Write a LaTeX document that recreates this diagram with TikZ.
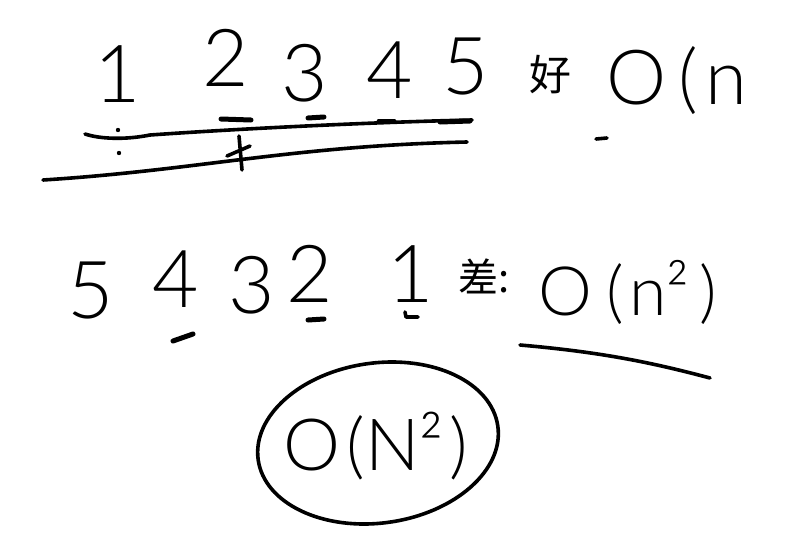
\documentclass[tikz,border=0pt]{standalone}
\usepackage{fontspec}
\setmainfont{Lato}[UprightFont=* Light]
\newfontfamily\cjk{Noto Sans CJK SC}
\begin{document}
\begin{tikzpicture}[x=1pt,y=-1pt,
  pen/.style={line width=3.6pt, line cap=round, line join=round},
  tick/.style={line width=5pt, line cap=round},
  dig/.style={font=\fontsize{80}{80}\selectfont, inner sep=0pt, anchor=base},
  big/.style={font=\fontsize{72}{72}\selectfont, inner sep=0pt, anchor=base},
  han/.style={font=\cjk\fontsize{42}{42}\selectfont, inner sep=0pt}]
\useasboundingbox (0,0) rectangle (803,533);
% top row
\node[dig] (a1) at (118,102) {1};
\node[dig] (a2) at (226,86) {2};
\node[dig] (a3) at (305,101) {3};
\node[dig] (a4) at (390,98) {4};
\node[dig] (a5) at (466,94) {5};
\node[han] (good) at (550,75) {好};
\node[big, anchor=base west, font=\fontsize{76}{76}\selectfont] (on) at (606,104) {O\kern12pt(\kern8pt n};
% top lines
\draw[pen] (85,134) .. controls (100,139) and (125,140) .. (150,135)
  .. controls (250,128) and (380,122) .. (472,120);
\draw[pen] (43,180) .. controls (200,170) and (290,146) .. (467,142);
\fill (118,130) circle (2.2pt);
\fill (119,153) circle (2.2pt);
\draw[tick] (221,119) -- (251,120);
\draw[tick] (308,118) -- (324,117);
\draw[tick] (379,121) -- (394,121);
\draw[tick] (440,122) -- (470,121);
\draw[pen] (239,136) -- (242,170);
\draw[pen] (227,156) -- (250,146);
\draw[pen] (596,139) -- (607,138);
% second row
\node[dig] (b5) at (91,318) {5};
\node[dig] (b4) at (176,307) {4};
\node[dig] (b3) at (252,313) {3};
\node[dig] (b2) at (310,302) {2};
\node[dig] (b1) at (411,302) {1};
\draw[tick] (173,341) -- (193,334);
\draw[tick] (308,320) -- (324,319);
\draw[pen] (405,312) -- (406,317) -- (418,317);
\node[han, anchor=base west, font=\cjk\fontsize{40}{40}\selectfont] (bad) at (458,292) {差:};
\node[big, anchor=base west, font=\fontsize{68}{68}\selectfont] (on2) at (538,315) {O\kern14pt(\kern6pt n²\kern10pt)};
\draw[pen] (520,345) .. controls (600,352) and (650,362) .. (710,378);
% circled
\draw[pen, rotate around={8:(378,443)}] (378,443) ellipse [x radius=121, y radius=80];
\node[big] (on3) at (376,470) {O\kern6pt(N²\kern6pt)};
\end{tikzpicture}
\end{document}
